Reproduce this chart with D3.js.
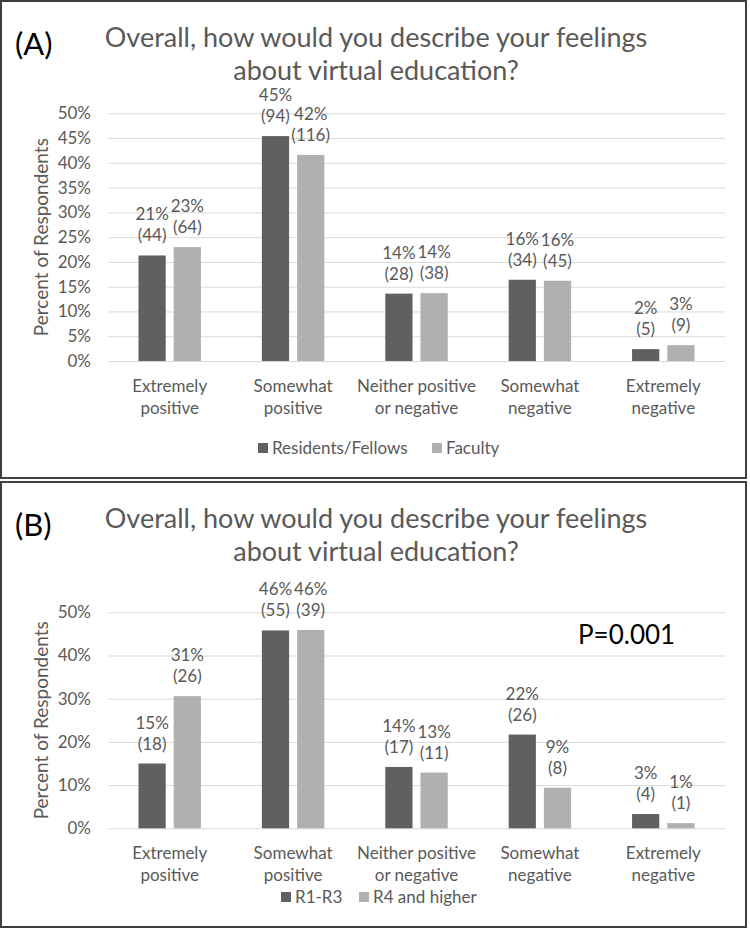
<!DOCTYPE html>
<html>
<head>
<meta charset="utf-8">
<script src="https://cdn.jsdelivr.net/npm/d3@7"></script>
<style>
  body { margin: 0; background: #fff; }
  text { font-family: Lato, "Open Sans", sans-serif; }
</style>
</head>
<body>
<div id="chart"></div>
<script>
// categories on the x axis (two-line labels)
var categories = ["Extremely|positive", "Somewhat|positive", "Neither positive|or negative", "Somewhat|negative", "Extremely|negative"];

// panel A: residents/fellows vs faculty
var residentsPct = [21.3, 45.4, 13.6, 16.4, 2.4];
var residentsN = [44, 94, 28, 34, 5];
var facultyPct = [23.0, 41.6, 13.7, 16.2, 3.2];
var facultyN = [64, 116, 38, 45, 9];

// panel B: R1-R3 vs R4 and higher
var juniorPct = [15.0, 45.8, 14.2, 21.7, 3.3];
var juniorN = [18, 55, 17, 26, 4];
var seniorPct = [30.6, 45.9, 12.9, 9.4, 1.2];
var seniorN = [26, 39, 11, 8, 1];

var ticksA = [0, 5, 10, 15, 20, 25, 30, 35, 40, 45, 50];
var ticksB = [0, 10, 20, 30, 40, 50];

var titleLines = ["Overall, how would you describe your feelings", "about virtual education?"];

var width = 750, height = 929;
var textGray = "#595959";
var colors = ["#606060", "#b0b0b0"];

var svg = d3.select("#chart").append("svg")
    .attr("width", width)
    .attr("height", height);

function drawPanel(cfg) {
    var g = svg.append("g").attr("transform", "translate(0," + cfg.top + ")");

    // box
    g.append("rect")
        .attr("x", 1).attr("y", 1)
        .attr("width", 745).attr("height", cfg.boxH)
        .attr("fill", "none")
        .attr("stroke", "#3f3f3f")
        .attr("stroke-width", 2);

    g.append("text")
        .attr("x", 15).attr("y", 55)
        .attr("font-size", 31)
        .attr("fill", "#000")
        .text(cfg.letter);

    g.append("text")
        .attr("text-anchor", "middle")
        .attr("font-size", 27)
        .attr("fill", textGray)
        .selectAll("tspan")
        .data(titleLines)
        .enter().append("tspan")
        .attr("x", 376)
        .attr("y", function(d, i) { return 47 + i * 33; })
        .text(function(d) { return d; });

    var y = d3.scaleLinear().domain([0, 50]).range([cfg.y0, cfg.y1]);
    var x0 = d3.scaleBand().domain(categories).range([108, 725])
        .paddingInner(0.494).paddingOuter(0.247);
    var x1 = d3.scaleBand().domain([0, 1]).range([0, x0.bandwidth()]).paddingInner(0.227);

    var axis = g.append("g")
        .attr("transform", "translate(108,0)")
        .call(d3.axisLeft(y).tickValues(cfg.ticks).tickSize(-617).tickPadding(17)
            .tickFormat(function(d) { return d + "%"; }));
    axis.select(".domain").remove();
    axis.selectAll("line").attr("stroke", "#d9d9d9");
    axis.selectAll("text").attr("fill", textGray).attr("font-size", 17)
        .style("font-family", "Lato, sans-serif");

    g.append("text")
        .attr("transform", "translate(48," + (cfg.y0 + cfg.y1) / 2 + ") rotate(-90)")
        .attr("text-anchor", "middle")
        .attr("font-size", 19)
        .attr("fill", textGray)
        .text("Percent of Respondents");

    var rows = [];
    categories.forEach(function(c, i) {
        cfg.series.forEach(function(s, j) {
            rows.push({cat: c, s: j, pct: s.pct[i], n: s.n[i]});
        });
    });

    g.append("g").selectAll("rect")
        .data(rows)
        .enter().append("rect")
        .attr("x", function(d) { return x0(d.cat) + x1(d.s); })
        .attr("y", function(d) { return y(d.pct); })
        .attr("width", x1.bandwidth())
        .attr("height", function(d) { return y(0) - y(d.pct); })
        .attr("fill", function(d) { return colors[d.s]; });

    var lbl = g.append("g").selectAll("text")
        .data(rows)
        .enter().append("text")
        .attr("text-anchor", "middle")
        .attr("font-size", 17)
        .attr("fill", textGray);
    lbl.append("tspan")
        .attr("x", function(d) { return x0(d.cat) + x1(d.s) + x1.bandwidth() / 2; })
        .attr("y", function(d) { return y(d.pct) - 35; })
        .text(function(d) { return Math.round(d.pct) + "%"; });
    lbl.append("tspan")
        .attr("x", function(d) { return x0(d.cat) + x1(d.s) + x1.bandwidth() / 2; })
        .attr("y", function(d) { return y(d.pct) - 14; })
        .text(function(d) { return "(" + d.n + ")"; });

    var xl = g.append("g").selectAll("text")
        .data(categories)
        .enter().append("text")
        .attr("text-anchor", "middle")
        .attr("font-size", 17)
        .attr("fill", textGray);
    xl.selectAll("tspan")
        .data(function(d) { return d.split("|").map(function(t) { return {c: d, t: t}; }); })
        .enter().append("tspan")
        .attr("x", function(d) { return x0(d.c) + x0.bandwidth() / 2; })
        .attr("y", function(d, i) { return cfg.y0 + 31 + i * 21.5; })
        .text(function(d) { return d.t; });

    var leg = g.append("g").selectAll("g")
        .data(cfg.series)
        .enter().append("g")
        .attr("transform", function(d, i) { return "translate(" + cfg.legendX[i] + "," + cfg.legendY + ")"; });
    leg.append("rect")
        .attr("y", -5).attr("width", 10).attr("height", 10)
        .attr("fill", function(d, i) { return colors[i]; });
    leg.append("text")
        .attr("x", 14).attr("y", 6)
        .attr("font-size", 17)
        .attr("fill", textGray)
        .text(function(d) { return d.name; });

    if (cfg.note) {
        g.append("text")
            .attr("x", 578).attr("y", cfg.note.y)
            .attr("font-size", 26)
            .attr("fill", "#000")
            .text(cfg.note.text);
    }
}

drawPanel({
    top: 0, boxH: 477, letter: "(A)",
    y0: 361, y1: 113.3, ticks: ticksA,
    series: [{name: "Residents/Fellows", pct: residentsPct, n: residentsN},
             {name: "Faculty", pct: facultyPct, n: facultyN}],
    legendX: [258, 432], legendY: 448
});

drawPanel({
    top: 481, boxH: 445, letter: "(B)",
    y0: 828.3 - 481, y1: 612.3 - 481, ticks: ticksB,
    series: [{name: "R1-R3", pct: juniorPct, n: juniorN},
             {name: "R4 and higher", pct: seniorPct, n: seniorN}],
    legendX: [281, 359], legendY: 897 - 481,
    note: {text: "P=0.001", y: 644 - 481}
});
</script>
</body>
</html>
